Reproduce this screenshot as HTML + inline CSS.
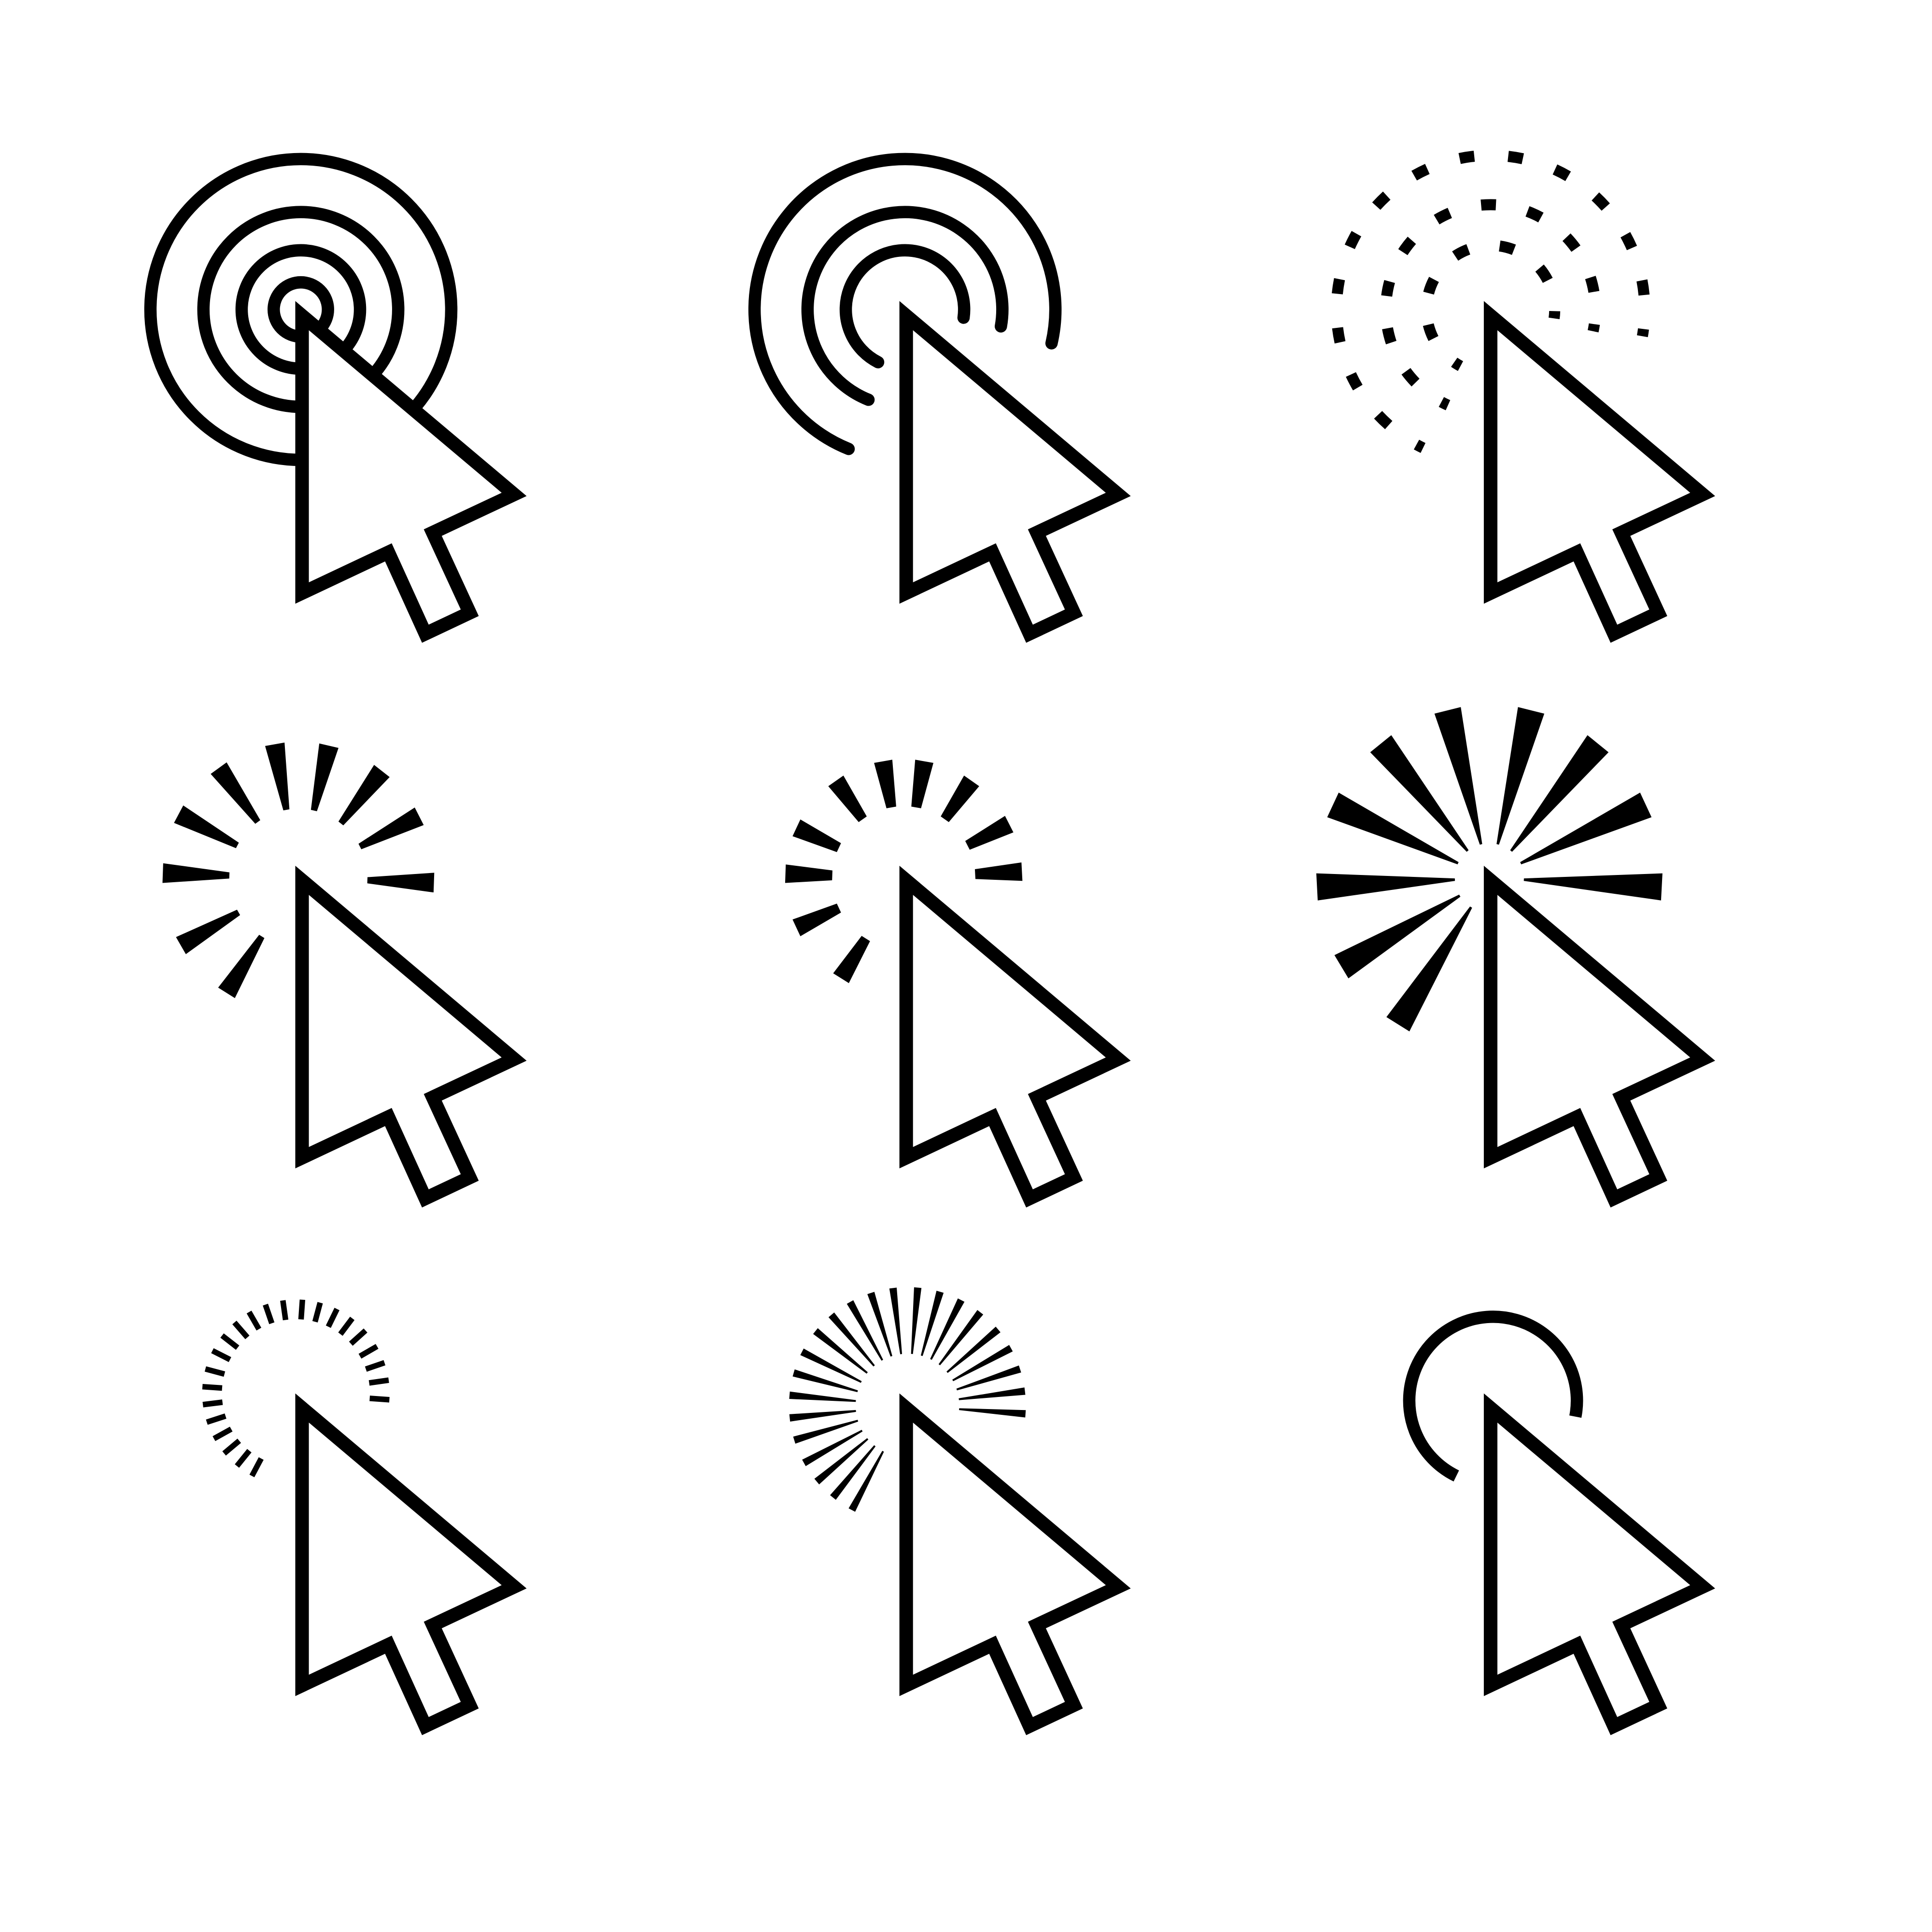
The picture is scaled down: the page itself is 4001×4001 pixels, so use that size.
<!DOCTYPE html>
<html><head><meta charset="utf-8"><title>Cursor click icons</title>
<style>html,body{margin:0;padding:0;background:#fff}svg{display:block}</style></head>
<body>
<svg id="s" width="4001" height="4001" viewBox="0 0 1567 1567" xmlns="http://www.w3.org/2000/svg">
<rect width="1567" height="1567" fill="#fff"/>
</svg>
<script>
// spoke angle data (degrees) per burst icon
const burstA = [-178,-152,-126,-100,-77,-52,-27,2,150,122];
const burstB = [-178,-155,-125,-100,-80,-55,-27,-3,155,122];
const burstC = [177,-155,-129,-104,-76,-51,-25,3,149,122];
const tickAngles = [118,129,140,151,162,173,184,195,207,218,229,240,251,262,274,285,296,307,318,330,341,352,364];
const rayAngles = [118,129,140,151,163,174,185,196,207,219,230,241,252,263,275,286,297,308,320,331,342,353,364];

const NS='http://www.w3.org/2000/svg';
const svg=document.getElementById('s');
function mk(tag,attrs,parent){const e=document.createElementNS(NS,tag);for(const k in attrs)e.setAttribute(k,attrs[k]);(parent||svg).appendChild(e);return e;}
function rad(d){return d*Math.PI/180;}
function pt(cx,cy,r,a){return [cx+r*Math.cos(rad(a)),cy+r*Math.sin(rad(a))];}
function arcPath(cx,cy,r,a1,a2){const p1=pt(cx,cy,r,a1),p2=pt(cx,cy,r,a2);const large=(a2-a1)>180?1:0;return `M${p1[0]},${p1[1]} A${r},${r} 0 ${large} 1 ${p2[0]},${p2[1]}`;}
function wedge(g,cx,cy,a,r1,r2,w1,w2,name){
  const c=Math.cos(rad(a)),s=Math.sin(rad(a)),nx=-s,ny=c;
  const p=[[cx+r1*c+nx*w1/2,cy+r1*s+ny*w1/2],[cx+r2*c+nx*w2/2,cy+r2*s+ny*w2/2],[cx+r2*c-nx*w2/2,cy+r2*s-ny*w2/2],[cx+r1*c-nx*w1/2,cy+r1*s-ny*w1/2]];
  const e=mk('polygon',{points:p.map(q=>q.join(',')).join(' '),fill:'#000'},g);
  
  
}
function cursor(g,dx,dy){
  const pts=[[245,256],[245,481],[315,448],[345,514],[381,497],[351,432],[417,401]];
  const e=mk('polygon',{points:pts.map(p=>(p[0]+dx)+','+(p[1]+dy)).join(' '),fill:'#fff',stroke:'#000','stroke-width':11,'stroke-miterlimit':10},g);
  
  
}
function group(name){const g=mk('g',{});return g;}

let g=group('icon-concentric-circles');
[122,79,48,22].forEach(r=>{const c=mk('circle',{cx:244,cy:251,r:r,fill:'none',stroke:'#000','stroke-width':10},g);});
cursor(g,0,0);

g=group('icon-open-arcs');
[[122,112,373],[79,112,370],[48,117,368]].forEach(a=>{const p=mk('path',{d:arcPath(734,251,a[0],a[1],a[2]),fill:'none',stroke:'#000','stroke-width':10,'stroke-linecap':'round'},g);});
cursor(g,490,0);

g=group('icon-dotted-arcs');
[[125,116,370,15],[85,114,372,11],[52,118,368,7]].forEach(a=>{
  const len=rad(a[2]-a[1])*a[0];const step=len/(a[3]-1);
  const p=mk('path',{d:arcPath(1209,251,a[0],a[1],a[2]),fill:'none',stroke:'#000','stroke-width':9},g);
  p.setAttribute('stroke-dasharray',`${12} ${step-12}`);p.setAttribute('stroke-dashoffset',6);
  });
cursor(g,964,0);

g=group('icon-burst-medium');
burstA.forEach(a=>wedge(g,242,712,a,56,110,5,16,'burst-ray'));
cursor(g,0,458);
g=group('icon-burst-small');
burstB.forEach(a=>wedge(g,733,712,a,58,96,8,15,'burst-ray'));
cursor(g,490,458);
g=group('icon-burst-large');
burstC.forEach(a=>wedge(g,1208,712,a,28,140,2,22,'burst-ray'));
cursor(g,964,458);

g=group('icon-tick-ring');
tickAngles.forEach(a=>wedge(g,240,1130,a,60,76,4.5,4.5,'tick-mark'));
cursor(g,0,886);
g=group('icon-ray-fan');
rayAngles.forEach(a=>wedge(g,736,1140,a,42,96,1.5,6,'fan-ray'));
cursor(g,490,886);
g=group('icon-single-arc');
let p=mk('path',{d:arcPath(1211,1136,68,116,371),fill:'none',stroke:'#000','stroke-width':10},g);


cursor(g,964,886);
</script>
</body></html>
